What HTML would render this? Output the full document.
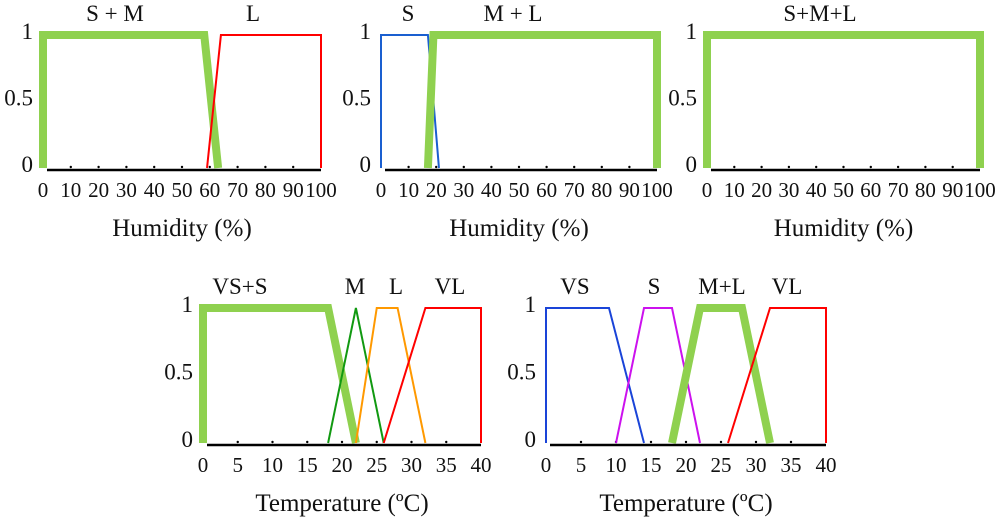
<!DOCTYPE html>
<html><head><meta charset="utf-8">
<style>
body{margin:0;background:#fff;}
svg{display:block;font-family:"Liberation Serif",serif;}
text{fill:#111;}
</style></head>
<body>
<svg id="c" width="1000" height="518" viewBox="0 0 1000 518"></svg>
<script>
// ---- data ----
const humTicks = [0,10,20,30,40,50,60,70,80,90,100];
const tempTicks = [0,5,10,15,20,25,30,35,40];
const p1SM_x = [0,0,58,63];   const p1SM_y = [0,1,1,0];
const p1L_x  = [59,64,100,100]; const p1L_y = [0,1,1,0];
const p2S_x  = [0,0,17,21];   const p2S_y = [0,1,1,0];
const p2ML_x = [17,19,100,100]; const p2ML_y = [0,1,1,0];
const p3SML_x = [0,0,100,100]; const p3SML_y = [0,1,1,0];
const p4VSS_x = [0,0,18,22];  const p4VSS_y = [0,1,1,0];
const p4M_x = [18,22,26];     const p4M_y = [0,1,0];
const p4L_x = [22,25,28,32];  const p4L_y = [0,1,1,0];
const p4VL_x = [26,32,40,40]; const p4VL_y = [0,1,1,0];
const p5VS_x = [0,0,9,14];    const p5VS_y = [0,1,1,0];
const p5S_x = [10,14,18,22];  const p5S_y = [0,1,1,0];
const p5ML_x = [18,22,28,32]; const p5ML_y = [0,1,1,0];
const p5VL_x = [26,32,40,40]; const p5VL_y = [0,1,1,0];

const NS="http://www.w3.org/2000/svg";
const svg=document.getElementById('c');
function mk(tag,attrs,parent){const e=document.createElementNS(NS,tag);for(const k in attrs)e.setAttribute(k,attrs[k]);(parent||svg).appendChild(e);return e;}
function txt(x,y,s,size,anchor,parent){const t=mk('text',{x:x,y:y,'font-size':size,'text-anchor':anchor||'middle'},parent);t.textContent=s;return t;}

function panel(name,x0,x1,y1,y0,xmax,ticks,xlabel,series,labels){
  const g=mk('g',{});
  
  
  const sx=v=>x0+(x1-x0)*v/xmax, sy=v=>y0+(y1-y0)*v;
  const ax=mk('line',{x1:sx(0)+4,y1:y0+2,x2:x1,y2:y0+2,stroke:'#000','stroke-width':2.5},g);
  
  
  ticks.forEach(t=>{
    if(t>0&&t<xmax){mk('circle',{cx:sx(t),cy:y0-1,r:1.2,fill:'#000'},g);}
    const l=txt(sx(t),y0+29,String(t),21,'middle',g);
    
    
  });
  [[1,'1'],[0.5,'0.5'],[0,'0']].forEach(([v,s])=>{
    const l=txt(x0-10,sy(v)+4,s,23,'end',g);
    
    
  });
  const xt=txt((x0+x1)/2,y0+68,xlabel,25,'middle',g);
  
  
  series.forEach(s=>{
    const pts=s.xs.map((v,i)=>sx(v)+','+sy(s.ys[i])).join(' ');
    const p=mk('polyline',{points:pts,fill:'none',stroke:s.c,'stroke-width':s.w,'stroke-linejoin':'miter'},g);
    
    
  });
  labels.forEach(([x,s])=>{
    const l=txt(x,y1-14,s,23,'middle',g);
    
    
  });
}
const GR='#8fd14f';
panel('humidity-panel-1',43,321,35,168,100,humTicks,'Humidity (%)',
 [{n:'s-m',xs:p1SM_x,ys:p1SM_y,c:GR,w:8},{n:'l',xs:p1L_x,ys:p1L_y,c:'#f00',w:2}],
 [[115,'S + M'],[253,'L']]);
panel('humidity-panel-2',381,657,35,168,100,humTicks,'Humidity (%)',
 [{n:'s',xs:p2S_x,ys:p2S_y,c:'#1a5fd0',w:2},{n:'m-l',xs:p2ML_x,ys:p2ML_y,c:GR,w:8}],
 [[408,'S'],[513,'M + L']]);
panel('humidity-panel-3',707,980,35,168,100,humTicks,'Humidity (%)',
 [{n:'s-m-l',xs:p3SML_x,ys:p3SML_y,c:GR,w:8}],
 [[820,'S+M+L']]);
panel('temperature-panel-1',203,481,308,443,40,tempTicks,'Temperature (ºC)',
 [{n:'vs-s',xs:p4VSS_x,ys:p4VSS_y,c:GR,w:8},{n:'m',xs:p4M_x,ys:p4M_y,c:'#119911',w:2},
  {n:'l',xs:p4L_x,ys:p4L_y,c:'#ff9900',w:2},{n:'vl',xs:p4VL_x,ys:p4VL_y,c:'#f00',w:2}],
 [[240,'VS+S'],[355,'M'],[396,'L'],[450,'VL']]);
panel('temperature-panel-2',546,826,308,443,40,tempTicks,'Temperature (ºC)',
 [{n:'vs',xs:p5VS_x,ys:p5VS_y,c:'#1a44d8',w:2},{n:'s',xs:p5S_x,ys:p5S_y,c:'#cc11ee',w:2},
  {n:'m-l',xs:p5ML_x,ys:p5ML_y,c:GR,w:8},{n:'vl',xs:p5VL_x,ys:p5VL_y,c:'#f00',w:2}],
 [[575,'VS'],[654,'S'],[722,'M+L'],[787,'VL']]);
</script>
</body></html>
